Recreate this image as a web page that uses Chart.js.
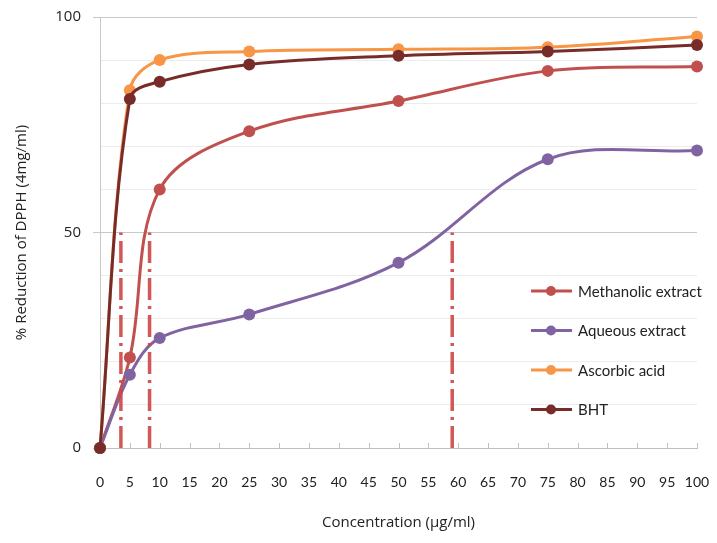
<!DOCTYPE html>
<html>
<head>
<meta charset="utf-8">
<script src="https://cdn.jsdelivr.net/npm/chart.js@4"></script>
<style>
  html, body { margin: 0; padding: 0; background: #fff; }
  #wrap { width: 717px; height: 543px; }
</style>
</head>
<body>
<div id="wrap"><canvas id="dpph"></canvas></div>
<script>
// DPPH scavenging vs concentration
const concentrations = [0, 5, 10, 25, 50, 75, 100];
const methanolic = [0, 21, 60, 73.5, 80.5, 87.5, 88.5];
const aqueous = [0, 17, 25.5, 31, 43, 67, 69];
const ascorbic = [0, 83, 90, 92, 92.5, 93, 95.5];
const bht = [0, 81, 85, 89, 91, 92, 93.5];

// IC50 guide lines (x position, drawn from 0 up to 50 %)
const ic50Values = [3.5, 8.3, 59];
const ic50Level = 50;

const seriesNames = ['Methanolic extract', 'Aqueous extract', 'Ascorbic acid', 'BHT'];
const seriesColors = ['#c0504d', '#8064a2', '#f79646', '#772c2a'];
const seriesData = [methanolic, aqueous, ascorbic, bht];

const xTickLabels = [0, 5, 10, 15, 20, 25, 30, 35, 40, 45, 50, 55, 60, 65, 70, 75, 80, 85, 90, 95, 100];
const yTickLabels = [0, 50, 100];

const datasets = seriesData.map((vals, i) => ({
  label: seriesNames[i],
  data: vals.map((v, j) => ({ x: concentrations[j], y: v })),
  borderColor: seriesColors[i],
  backgroundColor: seriesColors[i],
  borderWidth: 3,
  pointRadius: 6,
  pointHoverRadius: 6,
  pointBorderWidth: 0,
  tension: 0.35,
  clip: false,
  order: 4 - i
}));

ic50Values.forEach(x => {
  datasets.push({
    label: 'IC50',
    data: [{ x: x, y: 0 }, { x: x, y: ic50Level }],
    borderColor: 'rgba(205,70,70,0.9)',
    borderWidth: 3.5,
    borderDash: [22, 6, 3, 6],
    pointRadius: 0,
    tension: 0,
    order: 0
  });
});

// Legend drawn inside the plot on the right, Excel style
const sideLegend = {
  id: 'sideLegend',
  afterDraw(chart) {
    const { ctx, chartArea } = chart;
    const x0 = chartArea.right - 166;
    const y0 = chartArea.top + 274;
    ctx.save();
    ctx.font = '15px Lato, "Open Sans", sans-serif';
    ctx.textBaseline = 'middle';
    seriesNames.forEach((name, i) => {
      const y = y0 + i * 39.5;
      ctx.strokeStyle = seriesColors[i];
      ctx.lineWidth = 3;
      ctx.beginPath();
      ctx.moveTo(x0, y);
      ctx.lineTo(x0 + 41, y);
      ctx.stroke();
      ctx.fillStyle = seriesColors[i];
      ctx.beginPath();
      ctx.arc(x0 + 20, y, 5, 0, Math.PI * 2);
      ctx.fill();
      ctx.fillStyle = '#222';
      ctx.fillText(name, x0 + 47, y + 1);
    });
    ctx.restore();
  }
};

// Excel-like inside tick marks on the category axis
const insideTicks = {
  id: 'insideTicks',
  beforeDatasetsDraw(chart) {
    const { ctx, scales: { x, y } } = chart;
    const base = y.getPixelForValue(0) + 1;
    ctx.save();
    ctx.strokeStyle = '#bfbfbf';
    ctx.lineWidth = 1;
    xTickLabels.forEach(v => {
      const px = Math.round(x.getPixelForValue(v)) + 0.5;
      ctx.beginPath();
      ctx.moveTo(px, base);
      ctx.lineTo(px, base - 6);
      ctx.stroke();
    });
    ctx.restore();
  }
};

new Chart(document.getElementById('dpph'), {
  type: 'line',
  data: { datasets },
  plugins: [sideLegend, insideTicks],
  options: {
    responsive: true,
    maintainAspectRatio: false,
    animation: false,
    layout: { padding: { left: 0, right: 20, top: 17, bottom: 0 } },
    plugins: {
      legend: { display: false },
      tooltip: { enabled: false }
    },
    scales: {
      x: {
        type: 'linear',
        min: 0,
        max: 100,
        afterBuildTicks: axis => { axis.ticks = xTickLabels.map(v => ({ value: v })); },
        afterFit: axis => {
          axis.height = 95;
          axis.paddingLeft = 0;
          axis.paddingRight = 0;
        },
        grid: { display: false, drawTicks: false },
        border: { display: true, color: '#bfbfbf', width: 1 },
        ticks: {
          padding: 26,
          maxRotation: 0,
          autoSkip: false,
          color: '#222',
          font: { family: 'Lato, "Open Sans", sans-serif', size: 14 }
        },
        title: {
          display: true,
          text: 'Concentration (μg/ml)',
          color: '#222',
          font: { family: '"Open Sans", Lato, sans-serif', size: 15 },
          padding: { top: 0, bottom: 11 }
        }
      },
      y: {
        min: 0,
        max: 100,
        ticks: {
          stepSize: 10,
          padding: 12,
          color: '#222',
          font: { family: '"Open Sans", sans-serif', size: 15 },
          callback: v => (yTickLabels.includes(v) ? v : '')
        },
        afterFit: axis => {
          axis.width = 100;
          axis.paddingTop = 0;
          axis.paddingBottom = 0;
        },
        grid: {
          tickLength: 7,
          color: ctx => (yTickLabels.includes(ctx.tick.value) ? '#c8c8c8' : '#ececec'),
          tickColor: ctx => (yTickLabels.includes(ctx.tick.value) ? '#c8c8c8' : 'rgba(0,0,0,0)')
        },
        border: { display: true, color: '#c8c8c8', width: 1 },
        title: {
          display: true,
          text: '% Reduction of DPPH (4mg/ml)',
          color: '#222',
          font: { family: '"Open Sans", sans-serif', size: 15 },
          padding: { top: 13, bottom: 0 }
        }
      }
    }
  }
});
</script>
</body>
</html>
